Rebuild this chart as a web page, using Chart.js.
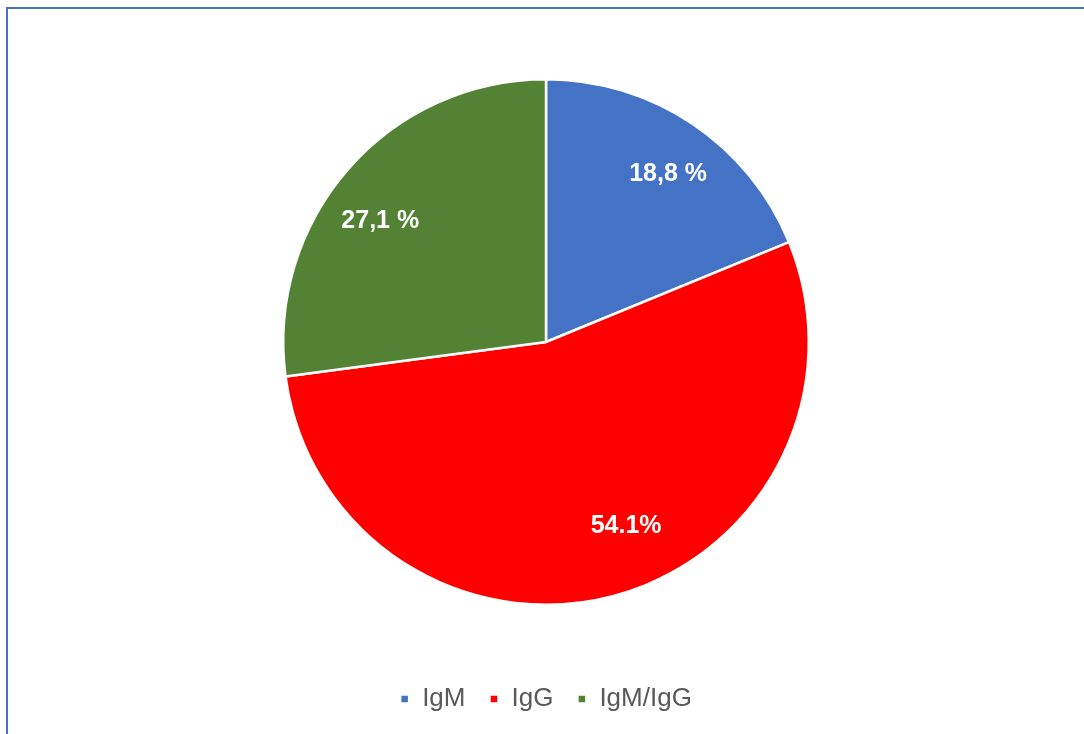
<!DOCTYPE html>
<html>
<head>
<meta charset="utf-8">
<script src="https://cdn.jsdelivr.net/npm/chart.js@4/dist/chart.umd.min.js"></script>
<style>
  html, body { margin: 0; padding: 0; background: #fff; }
  body { width: 1084px; height: 734px; position: relative; overflow: hidden; }
  #frame { position: absolute; left: 6px; top: 7px; width: 1076px; height: 740px;
           border-left: 2px solid #4472C4; border-top: 2px solid #4472C4; border-right: 1px solid #D9E1F2; }
  #wrap { position: absolute; left: 0; top: 0; width: 1084px; height: 734px; }
</style>
</head>
<body>
<div id="frame"></div>
<div id="wrap"><canvas id="c" width="1084" height="734"></canvas></div>
<script>
const categories = ["IgM", "IgG", "IgM/IgG"];
const values = [18.8, 54.1, 27.1];
const valueLabels = ["18,8 %", "54.1%", "27,1 %"];
const colors = ["#4472C4", "#FF0000", "#548235"];

const labelPlugin = {
  id: 'sliceLabels',
  afterDatasetsDraw(chart, args, opts) {
    const ctx = chart.ctx;
    const meta = chart.getDatasetMeta(0);
    ctx.save();
    ctx.font = 'bold 25px "Liberation Sans", Arial, sans-serif';
    ctx.fillStyle = '#FFFFFF';
    ctx.textAlign = 'center';
    ctx.textBaseline = 'middle';
    meta.data.forEach((arc, i) => {
      const p = arc.getProps(['x','y','startAngle','endAngle','outerRadius'], true);
      const mid = (p.startAngle + p.endAngle) / 2 + (opts.angleShift[i] || 0) * Math.PI / 180;
      const r = p.outerRadius * opts.radiusFrac[i];
      ctx.fillText(valueLabels[i], p.x + Math.cos(mid) * r, p.y + Math.sin(mid) * r);
    });
    ctx.restore();
  }
};

new Chart(document.getElementById('c'), {
  type: 'pie',
  data: {
    labels: categories,
    datasets: [{
      data: values,
      backgroundColor: colors,
      borderColor: '#FFFFFF',
      borderWidth: 2.5,
      hoverOffset: 0
    }]
  },
  options: {
    responsive: false,
    animation: false,
    layout: { padding: { top: 22, left: 282, right: 274, bottom: 12 } },
    plugins: {
      tooltip: { enabled: false },
      sliceLabels: { angleShift: [2.2, -8.6, -5.2], radiusFrac: [0.79, 0.763, 0.78] },
      legend: {
        position: 'bottom',
        labels: {
          usePointStyle: true,
          pointStyle: 'rect',
          boxWidth: 9,
          boxHeight: 9,
          padding: 24,
          color: '#595959',
          font: { family: '"Liberation Sans", Arial, sans-serif', size: 26 }
        }
      }
    }
  },
  plugins: [labelPlugin]
});
</script>
</body>
</html>
